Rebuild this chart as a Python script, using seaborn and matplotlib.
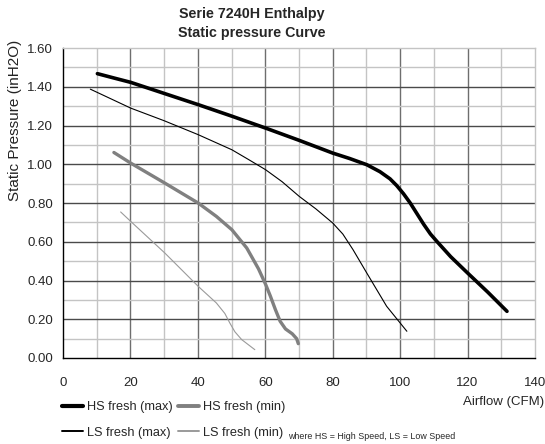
import pandas as pd
import seaborn as sns
import matplotlib.pyplot as plt
from matplotlib.lines import Line2D

# Values (Airflow CFM vs static pressure inH2O)
hs_max_x = [10.2, 15.0, 20.1, 30.0, 40.1, 50.0, 60.1, 70.0, 80.0, 85.0, 90.1, 94.0, 97.0, 99.0, 101.0, 103.0, 105.0, 107.0, 109.0, 111.0, 115.0, 120.0, 126.0, 131.7]
hs_max_y = [1.468, 1.446, 1.423, 1.366, 1.308, 1.249, 1.187, 1.124, 1.058, 1.030, 0.998, 0.962, 0.925, 0.890, 0.848, 0.800, 0.745, 0.690, 0.640, 0.600, 0.523, 0.439, 0.340, 0.241]

hs_min_x = [15.1, 20.1, 30.2, 40.1, 45.5, 50.1, 54.5, 58.0, 60.1, 61.5, 63.0, 64.4, 66.0, 68.0, 69.3, 69.8]
hs_min_y = [1.061, 1.006, 0.903, 0.800, 0.731, 0.662, 0.568, 0.460, 0.380, 0.320, 0.250, 0.190, 0.150, 0.125, 0.100, 0.074]

ls_max_x = [8.1, 20.1, 30.0, 40.1, 50.1, 55.0, 60.1, 65.0, 70.1, 75.0, 80.0, 83.0, 86.0, 90.1, 96.0, 102.0]
ls_max_y = [1.388, 1.290, 1.225, 1.153, 1.075, 1.025, 0.972, 0.910, 0.834, 0.770, 0.697, 0.640, 0.560, 0.439, 0.267, 0.138]

ls_min_x = [17.1, 20.1, 30.2, 40.1, 45.5, 48.0, 49.5, 51.0, 53.0, 56.9]
ls_min_y = [0.754, 0.705, 0.542, 0.370, 0.284, 0.230, 0.180, 0.135, 0.095, 0.043]

x_ticks = [0, 20, 40, 60, 80, 100, 120, 140]
y_ticks = [0.0, 0.2, 0.4, 0.6, 0.8, 1.0, 1.2, 1.4, 1.6]

series = [
    ("HS fresh (max)", hs_max_x, hs_max_y, "#000000", 2.6),
    ("HS fresh (min)", hs_min_x, hs_min_y, "#808080", 2.4),
    ("LS fresh (max)", ls_max_x, ls_max_y, "#000000", 0.8),
    ("LS fresh (min)", ls_min_x, ls_min_y, "#9a9a9a", 0.8),
]

sns.set_style("white")
plt.rcParams['font.family'] = ['Liberation Sans', 'DejaVu Sans']

fig = plt.figure(figsize=(5.45, 4.44), dpi=100)
ax = fig.add_axes([0.1156, 0.1937, 0.866, 0.698])

# grid: minor light gray, major darker gray
for v in range(10, 140, 10):
    col = "#6e6e6e" if v % 20 == 0 else "#c4c4c4"
    ax.axvline(v, color=col, lw=1.0, zorder=0)
for v in [i / 10 for i in range(1, 16)]:
    col = "#4a4a4a" if round(v * 10) % 2 == 0 else "#c4c4c4"
    ax.axhline(v, color=col, lw=1.0, zorder=0)

handles = {}
for name, xs, ys, col, lw in series:
    df = pd.DataFrame({"x": xs, "y": ys})
    sns.lineplot(data=df, x="x", y="y", ax=ax, color=col, lw=lw, sort=False, zorder=3)
    handles[name] = Line2D([0], [0], color=col, lw=lw + 0.4 if lw > 1 else lw + 0.6, label=name)

ax.set_xlim(0, 140)
ax.set_ylim(0, 1.6)
ax.set_xticks(x_ticks)
ax.set_yticks(y_ticks)
ax.set_yticklabels([f"{t:.2f}" for t in y_ticks])
ax.tick_params(axis="both", labelsize=9.5, length=4, width=1, color="black", direction="out", pad=3)
ax.tick_params(axis="x", pad=10)
for s in ["left", "bottom"]:
    ax.spines[s].set_color("black")
    ax.spines[s].set_linewidth(1.0)
for s in ["top", "right"]:
    ax.spines[s].set_color("#c4c4c4")
    ax.spines[s].set_linewidth(1.0)

ax.set_xlabel("")
ax.set_ylabel("Static Pressure (inH2O)", fontsize=11, color="#222222")
ax.yaxis.set_label_coords(-0.086, 0.768)
fig.text(0.999, 0.0946, "Airflow (CFM)", fontsize=9.5, ha="right", va="center")

ax.set_title("Serie 7240H Enthalpy\nStatic pressure Curve", fontsize=10.3, fontweight="bold", pad=8,
             linespacing=1.45, x=0.40)

# legend laid out row by row: HS row then LS row
order = ["HS fresh (max)", "LS fresh (max)", "HS fresh (min)", "LS fresh (min)"]
fig.legend(handles=[handles[k] for k in order], loc="upper left", bbox_to_anchor=(0.113, 0.096), ncol=2,
           frameon=False, fontsize=9.2, handlelength=1.65, handletextpad=0.3,
           columnspacing=0.45, labelspacing=1.05, borderpad=0, borderaxespad=0)
fig.text(0.528, 0.018, "where HS = High Speed, LS = Low Speed", fontsize=6.4, ha="left", va="center")

fig.savefig("out.png", dpi=100)
